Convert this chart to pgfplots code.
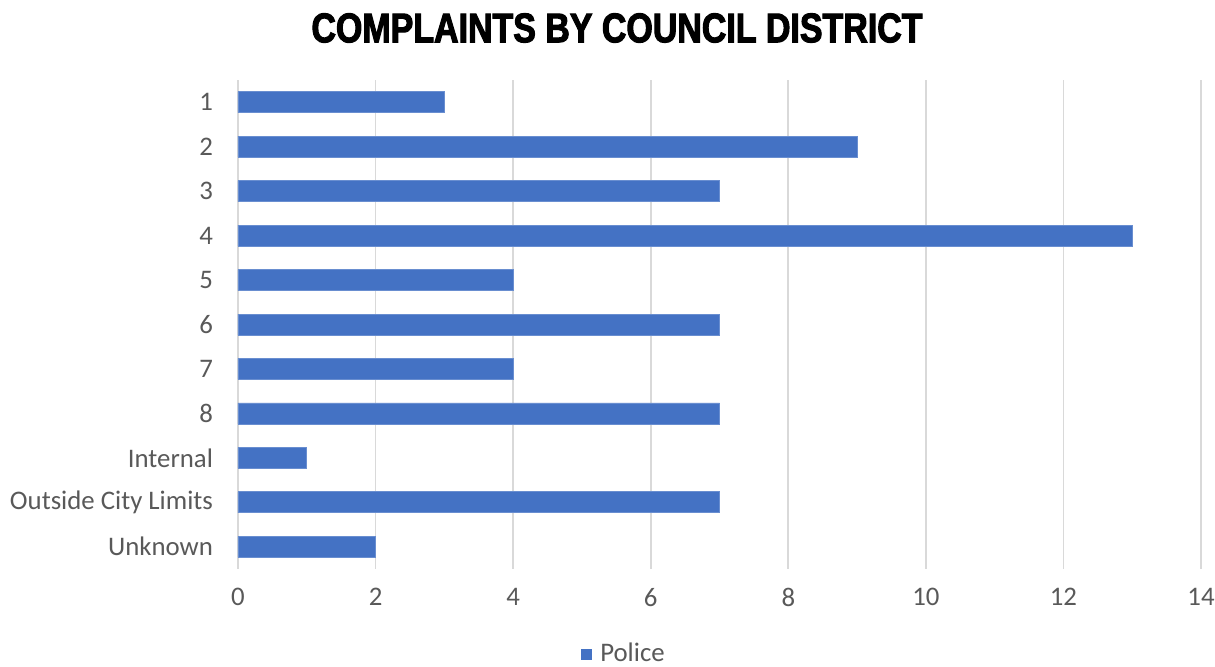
\documentclass[border=0pt]{standalone}
\usepackage{pgfplots}
\pgfplotsset{compat=1.18}
\usepackage{fontspec}
\setmainfont{Carlito}
\newfontfamily\titlefont[FakeStretch=0.82,FakeBold=2.5]{Liberation Sans Bold}
\definecolor{barblue}{HTML}{4472C4}
\definecolor{gridgray}{HTML}{D9D9D9}
\definecolor{textgray}{HTML}{595959}
\begin{document}
\begin{tikzpicture}
  \useasboundingbox (0,0) rectangle (607.5pt,333pt);
  \node at (308.5pt,319pt) {\titlefont\fontsize{20.7pt}{24pt}\selectfont COMPLAINTS BY COUNCIL DISTRICT};
  \begin{axis}[
      at={(119pt,48.5pt)}, anchor=south west,
      scale only axis, width=481.5pt, height=244.5pt,
      xbar, bar width=10.5pt,
      xmin=0, xmax=14, ymin=-0.5, ymax=10.5,
      y dir=reverse,
      xtick={0,2,...,14},
      ytick=data,
      yticklabels={1,2,3,4,5,6,7,8,Internal,Outside City Limits,Unknown},
      axis line style={draw=none},
      major tick length=0pt,
      xmajorgrids, grid style={gridgray, line width=0.8pt},
      ymajorgrids=false,
      tick label style={font=\fontsize{13.4pt}{15pt}\selectfont, text=textgray},
      /pgf/number format/assume math mode=true,
      yticklabel style={xshift=-9pt},
      xticklabel style={yshift=-6pt},
      legend style={at={(0.404,-0.174)}, anchor=center, draw=none,
        font=\fontsize{13.4pt}{15pt}\selectfont, text=textgray,
        nodes={inner xsep=4pt}},
      legend image code/.code={\fill[barblue] (0pt,-2.5pt) rectangle (5pt,2.5pt);},
    ]
    \addplot[fill=barblue, draw=barblue!80!white] coordinates {
      (3,0) (9,1) (7,2) (13,3) (4,4) (7,5) (4,6) (7,7) (1,8) (7,9) (2,10)
    };
    \addlegendentry{Police}
  \end{axis}
\end{tikzpicture}
\end{document}
